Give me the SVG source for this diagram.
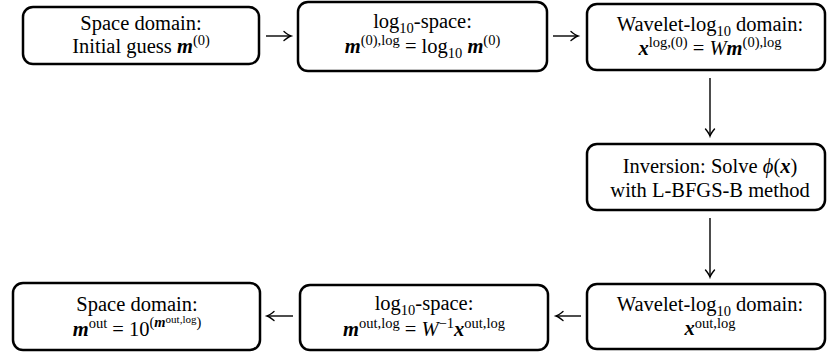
<svg xmlns="http://www.w3.org/2000/svg" width="827" height="356" viewBox="0 0 827 356">
<defs>
<marker id="ah" markerUnits="userSpaceOnUse" markerWidth="12" markerHeight="12" viewBox="-8 -6 10 12" refX="0" refY="0" orient="auto">
<path d="M-7,-4.5 Q-2.5,-0.8 0,0 Q-2.5,0.8 -7,4.5" fill="none" stroke="#000" stroke-width="1.4" stroke-linecap="round"/>
</marker>
</defs>
<style>
.box{fill:#fff;stroke:#000;stroke-width:2.5}
.edge{stroke:#000;stroke-width:1.4;fill:none;marker-end:url(#ah)}
</style>
<g id="connectors">
<line class="edge" x1="266" y1="36" x2="291" y2="36"/>
<line class="edge" x1="553" y1="36" x2="578" y2="36"/>
<line class="edge" x1="710" y1="78" x2="710" y2="136"/>
<line class="edge" x1="710" y1="218" x2="710" y2="277"/>
<line class="edge" x1="581" y1="316" x2="556" y2="316"/>
<line class="edge" x1="293" y1="316" x2="267" y2="316"/>
</g>
<g font-size="20.5" text-anchor="middle" fill="#000">
<g id="n1">
<rect class="box" x="23" y="7" width="236" height="57" rx="10"/>
<text font-family="Liberation Serif, Times New Roman, serif" x="141" y="30">Space domain:</text>
<text font-family="Liberation Serif, Times New Roman, serif" x="141" y="53">Initial guess <tspan font-weight="bold" font-style="italic">m</tspan><tspan font-size="14.5" dy="-8">(0)</tspan></text>
</g>
<g id="n2">
<rect class="box" x="298" y="2" width="249" height="69" rx="10"/>
<text font-family="Liberation Serif, Times New Roman, serif" x="422.5" y="28">log<tspan font-size="14.5" dy="5">10</tspan><tspan dy="-5">-space:</tspan></text>
<text font-family="Liberation Serif, Times New Roman, serif" x="422.5" y="53"><tspan font-weight="bold" font-style="italic">m</tspan><tspan font-size="14.5" dy="-8">(0),log</tspan><tspan dy="8"> = log</tspan><tspan font-size="14.5" dy="5">10</tspan><tspan dy="-5"> </tspan><tspan font-weight="bold" font-style="italic">m</tspan><tspan font-size="14.5" dy="-8">(0)</tspan></text>
</g>
<g id="n3">
<rect class="box" x="587" y="4" width="238" height="66" rx="10"/>
<text font-family="Liberation Serif, Times New Roman, serif" x="710" y="30.5">Wavelet-log<tspan font-size="14.5" dy="5">10</tspan><tspan dy="-5"> domain:</tspan></text>
<text font-family="Liberation Serif, Times New Roman, serif" x="710" y="54.5"><tspan font-weight="bold" font-style="italic">x</tspan><tspan font-size="14.5" dy="-8">log,(0)</tspan><tspan dy="8"> = </tspan><tspan font-style="italic">W</tspan><tspan font-weight="bold" font-style="italic">m</tspan><tspan font-size="14.5" dy="-8">(0),log</tspan></text>
</g>
<g id="n4">
<rect class="box" x="587" y="144" width="238" height="66" rx="10"/>
<text font-family="Liberation Serif, Times New Roman, serif" x="710" y="173">Inversion: Solve <tspan font-style="italic">ϕ</tspan>(<tspan font-weight="bold" font-style="italic">x</tspan>)</text>
<text font-family="Liberation Serif, Times New Roman, serif" x="710" y="197">with L-BFGS-B method</text>
</g>
<g id="n5">
<rect class="box" x="587" y="284" width="238" height="65" rx="10"/>
<text font-family="Liberation Serif, Times New Roman, serif" x="710" y="311">Wavelet-log<tspan font-size="14.5" dy="5">10</tspan><tspan dy="-5"> domain:</tspan></text>
<text font-family="Liberation Serif, Times New Roman, serif" x="710" y="335"><tspan font-weight="bold" font-style="italic">x</tspan><tspan font-size="14.5" dy="-7">out,log</tspan></text>
</g>
<g id="n6">
<rect class="box" x="300" y="285" width="248" height="65" rx="10"/>
<text font-family="Liberation Serif, Times New Roman, serif" x="424" y="310">log<tspan font-size="14.5" dy="5">10</tspan><tspan dy="-5">-space:</tspan></text>
<text font-family="Liberation Serif, Times New Roman, serif" x="424" y="336"><tspan font-weight="bold" font-style="italic">m</tspan><tspan font-size="14.5" dy="-8">out,log</tspan><tspan dy="8"> = </tspan><tspan font-style="italic">W</tspan><tspan font-size="14.5" dy="-8">−1</tspan><tspan font-weight="bold" font-style="italic" dy="8">x</tspan><tspan font-size="14.5" dy="-8">out,log</tspan></text>
</g>
<g id="n7">
<rect class="box" x="13" y="283" width="247" height="67" rx="10"/>
<text font-family="Liberation Serif, Times New Roman, serif" x="137" y="311">Space domain:</text>
<text font-family="Liberation Serif, Times New Roman, serif" x="137" y="336"><tspan font-weight="bold" font-style="italic">m</tspan><tspan font-size="14.5" dy="-8">out</tspan><tspan dy="8"> = 10</tspan><tspan font-size="14.5" dy="-9">(</tspan><tspan font-size="14.5" font-weight="bold" font-style="italic">m</tspan><tspan font-size="11" dy="-4">out,log</tspan><tspan font-size="14.5" dy="4">)</tspan></text>
</g>
</g>
</svg>
